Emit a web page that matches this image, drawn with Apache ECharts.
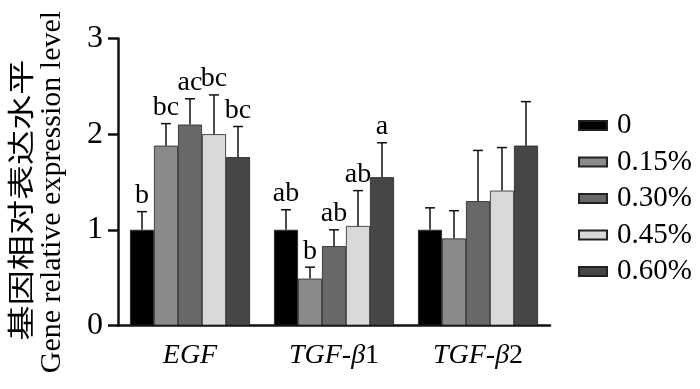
<!DOCTYPE html>
<html><head><meta charset="utf-8">
<script src="https://cdn.jsdelivr.net/npm/echarts@6/dist/echarts.min.js"></script>
<style>html,body{margin:0;padding:0;background:#fff}#c{width:700px;height:389px}</style>
</head><body><div id="c"></div>
<script>
var categories = ['EGF', 'TGF-β1', 'TGF-β2'];
var groups = ['0', '0.15%', '0.30%', '0.45%', '0.60%'];
var mean0  = [1.00, 1.00, 1.00];
var mean15 = [1.88, 0.49, 0.91];
var mean30 = [2.10, 0.83, 1.30];
var mean45 = [2.00, 1.04, 1.41];
var mean60 = [1.76, 1.55, 1.88];
var err0  = [0.19, 0.21, 0.23];
var err15 = [0.23, 0.12, 0.29];
var err30 = [0.27, 0.17, 0.53];
var err45 = [0.41, 0.37, 0.45];
var err60 = [0.32, 0.36, 0.46];
var sig0  = ['b', 'ab', ''];
var sig15 = ['bc', 'b', ''];
var sig30 = ['ac', 'ab', ''];
var sig45 = ['bc', 'ab', ''];
var sig60 = ['bc', 'a', ''];
var yTicks = [0, 1, 2, 3];

var means = [mean0, mean15, mean30, mean45, mean60];
var errs = [err0, err15, err30, err45, err60];
var sigs = [sig0, sig15, sig30, sig45, sig60];
var colors = ['#000000', '#8a8a8a', '#686868', '#d9d9d9', '#464646'];
var FONT = "'Liberation Serif','Times New Roman',serif";
var GAP = 0.1667;

var series = [];
groups.forEach(function (g, s) {
  series.push({
    name: g, type: 'bar', data: means[s], barGap: 0, barCategoryGap: (GAP * 100) + '%',
    itemStyle: { color: colors[s], borderColor: '#222', borderWidth: 0.8 }
  });
});
var errData = [];
groups.forEach(function (g, s) {
  categories.forEach(function (c, i) { errData.push([i, means[s][i], errs[s][i], s]); });
});
series.push({
  type: 'custom', z: 10, silent: true, data: errData,
  renderItem: function (params, api) {
    var c = api.value(0), m = api.value(1), e = api.value(2), s = api.value(3);
    var band = api.size([1, 0])[0];
    var bw = band * (1 - GAP) / groups.length;
    var top = api.coord([c, m + e]);
    var base = api.coord([c, m]);
    var x = top[0] + (s - (groups.length - 1) / 2) * bw;
    var children = [
      { type: 'line', shape: { x1: x, y1: base[1], x2: x, y2: top[1] }, style: { stroke: '#111', lineWidth: 1.5 } },
      { type: 'line', shape: { x1: x - 5, y1: top[1], x2: x + 5, y2: top[1] }, style: { stroke: '#111', lineWidth: 1.5 } }
    ];
    var lab = sigs[s][c];
    if (lab) {
      children.push({ type: 'text', style: { text: lab, x: x, y: top[1] - 2, align: 'center', verticalAlign: 'bottom', font: '28px ' + FONT, fill: '#000' } });
    }
    return { type: 'group', children: children };
  }
});

var chart = echarts.init(document.getElementById('c'));
chart.setOption({
  animation: false,
  grid: { left: 118, right: 150, top: 38.5, bottom: 63.5, containLabel: false },
  legend: {
    orient: 'vertical', left: 578, top: 111, padding: 0, itemWidth: 28, itemHeight: 9, itemGap: 7.5,
    data: groups, icon: 'rect',
    textStyle: { fontFamily: FONT, fontSize: 29, color: '#000', padding: [0, 0, 0, 5] }
  },
  xAxis: {
    type: 'category', data: categories,
    axisLine: { lineStyle: { color: '#111', width: 2.5 } },
    axisTick: { alignWithLabel: true, length: 8, lineStyle: { color: '#111', width: 2.5 } },
    axisLabel: {
      interval: 0, margin: 16, color: '#000', fontFamily: FONT, fontSize: 28,
      formatter: function (v) {
        var m = v.match(/^(.*?)(\d*)$/);
        return '{i|' + m[1] + '}' + (m[2] ? '{n|' + m[2] + '}' : '');
      },
      rich: {
        i: { fontFamily: FONT, fontSize: 28, fontStyle: 'italic', color: '#000' },
        n: { fontFamily: FONT, fontSize: 28, color: '#000' }
      }
    }
  },
  yAxis: {
    type: 'value', min: yTicks[0], max: yTicks[yTicks.length - 1], interval: 1,
    axisLine: { show: true, lineStyle: { color: '#111', width: 2.5 } },
    axisTick: { show: true, length: 10, lineStyle: { color: '#111', width: 2.5 } },
    splitLine: { show: false },
    axisLabel: { margin: 15, color: '#000', fontFamily: FONT, fontSize: 32 }
  },
  graphic: [
    { type: 'text', x: 21, y: 200, rotation: Math.PI / 2, scaleX: 1.3,
      style: { text: '基因相对表达水平', font: "27px 'Noto Sans CJK SC', serif", fill: '#000', align: 'center', verticalAlign: 'middle' } },
    { type: 'text', x: 52, y: 192, rotation: Math.PI / 2,
      style: { text: 'Gene relative expression level', font: '30px ' + FONT, fill: '#000', align: 'center', verticalAlign: 'middle' } }
  ],
  series: series
});
</script></body></html>
